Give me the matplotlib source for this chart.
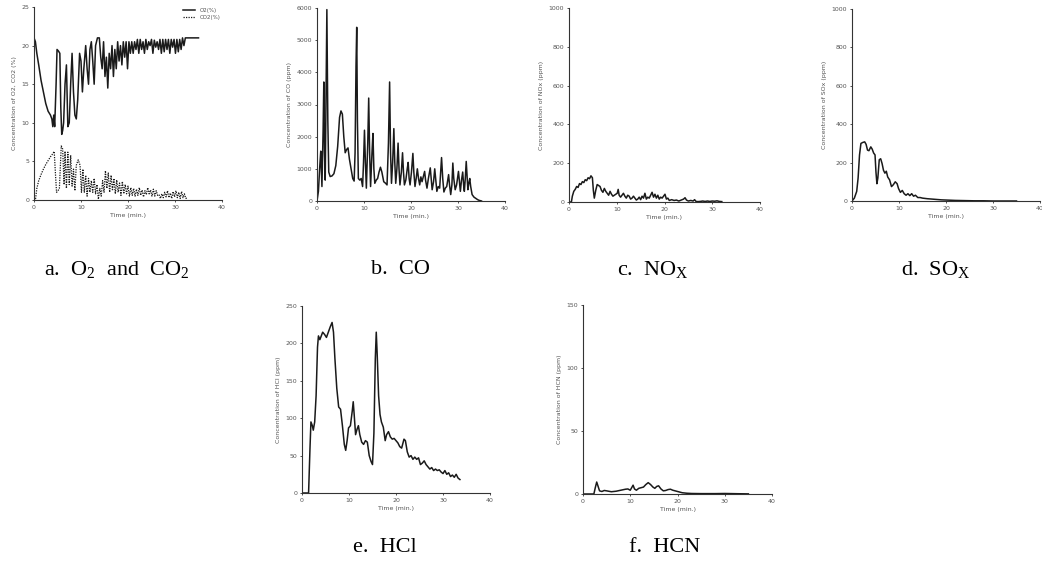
import matplotlib
matplotlib.use("Agg")
import matplotlib.pyplot as plt

plt.rcParams['mathtext.fontset'] = 'custom'
plt.rcParams['mathtext.rm'] = 'Liberation Serif'
plt.rcParams['mathtext.it'] = 'Liberation Serif:italic'

# ---------------- data ----------------
o2_t = [0, 0.3, 0.6, 1.0, 1.5, 2.0, 2.5, 3.0, 3.5, 3.8, 4.0, 4.2, 4.4, 4.7, 4.9, 5.2, 5.5, 5.7, 5.9, 6.1,
        6.3, 6.6, 6.9, 7.2, 7.5, 7.8, 8.1, 8.4, 8.7, 9.0, 9.3, 9.7, 10.0, 10.3, 10.6, 11.0, 11.3, 11.6, 11.9, 12.2,
        12.5, 12.8, 13.1, 13.5, 13.9, 14.2, 14.5, 14.8, 15.1, 15.4, 15.7, 16.0, 16.3, 16.6, 16.9, 17.2, 17.5, 17.8, 18.1, 18.4,
        18.7, 19.0, 19.3, 19.6, 19.9, 20.2, 20.5, 20.8, 21.1, 21.4, 21.7, 22.0, 22.3, 22.6, 22.9, 23.2, 23.5, 23.8, 24.1, 24.4,
        24.7, 25.0, 25.3, 25.6, 25.9, 26.2, 26.5, 26.8, 27.1, 27.4, 27.7, 28.0, 28.3, 28.6, 28.9, 29.2, 29.5, 29.8, 30.1, 30.4,
        30.7, 31.0, 31.3, 31.6, 31.9, 32.2, 32.5, 35.0]
o2_v = [21, 20.5, 19, 17.5, 15.5, 14, 12.5, 11.5, 11, 10.5, 9.5, 11, 9.5, 15, 19.5, 19.3, 19, 12, 8.5, 9,
        10, 15, 17.5, 9.5, 10, 15, 19, 14, 11, 10.5, 13, 19, 18, 14, 17, 20, 17, 15, 19.5, 20.5,
        18, 15, 20, 21, 21, 18.5, 17, 20.5, 16, 18.5, 14.5, 19, 17, 20, 16, 19.5, 17, 20.5, 18, 20,
        17.5, 20.5, 18.5, 20.5, 17, 20.5, 19, 20.5, 19, 20.5, 19.5, 20.8, 19, 20.8, 19.5, 20.5, 19, 20.8, 19.5, 20.5,
        20, 20.8, 19, 20.7, 19.8, 20.5, 19.5, 20.8, 19, 20.8, 19.2, 20.8, 19.5, 20.8, 19, 20.8, 19.8, 20.8, 19, 20.8,
        19.2, 20.8, 19.5, 21, 20, 21, 21, 21]

co2_t = [0.0, 0.3, 0.6, 1.0, 1.5, 2.0, 2.5, 3.0, 3.5, 4.0, 4.3, 4.6, 4.8, 5.1, 5.4, 5.8, 6.1, 6.4, 6.6, 6.9,
         7.2, 7.5, 7.8, 8.1, 8.4, 8.7, 9.0, 9.4, 9.8, 10.1, 10.4, 10.7, 11.0, 11.3, 11.6, 11.9, 12.2, 12.5, 12.8, 13.1,
         13.4, 13.7, 14.0, 14.3, 14.6, 14.9, 15.2, 15.5, 15.8, 16.1, 16.4, 16.7, 17.0, 17.3, 17.6, 17.9, 18.2, 18.5, 18.8, 19.1,
         19.4, 19.7, 20.0, 20.3, 20.6, 20.9, 21.2, 21.5, 21.8, 22.1, 22.4, 22.7, 23.0, 23.3, 23.6, 23.9, 24.2, 24.5, 24.8, 25.1,
         25.4, 25.7, 26.0, 26.3, 26.6, 26.9, 27.2, 27.5, 27.8, 28.1, 28.4, 28.7, 29.0, 29.3, 29.6, 29.9, 30.2, 30.5, 30.8, 31.1,
         31.4, 31.7, 32.0, 32.3, 32.6]
co2_v = [0, 0, 1.5, 2.5, 3.3, 4.0, 4.6, 5.1, 5.6, 6.0, 6.3, 3.0, 1.0, 1.2, 1.5, 7.0, 6.6, 2.0, 6.3, 1.5,
         6.2, 2.0, 5.8, 1.8, 4.0, 1.2, 4.5, 5.2, 4.5, 1.0, 4.0, 1.0, 3.2, 0.5, 2.8, 1.0, 2.5, 1.0, 2.8, 0.8,
         2.0, 0.1, 1.5, 0.5, 2.5, 1.0, 3.8, 1.5, 3.5, 1.0, 3.2, 1.2, 2.8, 0.8, 2.6, 1.0, 2.2, 0.6, 2.4, 0.8,
         2.0, 0.8, 1.8, 0.5, 1.6, 0.6, 1.5, 0.5, 1.4, 0.6, 1.6, 0.6, 1.3, 0.4, 1.2, 0.7, 1.6, 0.8, 1.3, 0.5,
         1.4, 0.5, 1.2, 0.6, 0.7, 0.2, 0.8, 0.3, 1.0, 0.4, 1.2, 0.3, 0.9, 0.2, 1.1, 0.4, 1.2, 0.3, 1.0, 0.2,
         1.1, 0.3, 0.8, 0.2, 0.3]

co_t = [0.0, 0.3, 0.6, 0.8, 1.05, 1.3, 1.45, 1.6, 1.75, 1.9, 2.1, 2.3, 2.5, 2.8, 3.2, 3.6, 4.0, 4.4, 4.8, 5.1,
        5.4, 5.7, 6.0, 6.3, 6.6, 6.9, 7.2, 7.6, 7.9, 8.1, 8.3, 8.45, 8.6, 8.8, 9.1, 9.4, 9.7, 9.9, 10.1, 10.3,
        10.5, 10.8, 11.0, 11.2, 11.4, 11.7, 11.9, 12.1, 12.3, 12.6, 12.9, 13.2, 13.5, 13.8, 14.2, 14.6, 14.9, 15.2, 15.45, 15.65,
        15.85, 16.1, 16.35, 16.55, 16.75, 17.0, 17.25, 17.45, 17.65, 17.95, 18.2, 18.4, 18.6, 18.9, 19.2, 19.4, 19.6, 19.8, 20.1, 20.4,
        20.6, 20.85, 21.1, 21.35, 21.6, 21.85, 22.1, 22.35, 22.6, 22.9, 23.1, 23.4, 23.7, 24.1, 24.3, 24.5, 24.8, 25.05, 25.3, 25.5,
        25.8, 26.1, 26.5, 26.75, 27.0, 27.3, 27.6, 28.0, 28.2, 28.45, 28.7, 28.9, 29.1, 29.4, 29.7, 30.1, 30.3, 30.5, 30.75, 31.0,
        31.2, 31.35, 31.55, 31.75, 31.95, 32.1, 32.3, 32.5, 32.7, 33.0, 33.4, 33.8, 34.2, 34.5, 35.0]
co_v = [0, 300, 1100, 1550, 450, 2200, 3700, 1500, 650, 3000, 5950, 2500, 900, 760, 780, 850, 1100, 1700, 2600, 2800,
        2700, 2000, 1500, 1600, 1650, 1300, 1050, 700, 620, 1500, 4200, 5400, 2500, 700, 650, 700, 450, 1200, 2200, 1200,
        400, 1800, 3200, 1500, 450, 1500, 2100, 1000, 550, 650, 700, 900, 1050, 900, 600, 550, 500, 1800, 3700, 1500,
        550, 1200, 2250, 1200, 550, 1000, 1800, 1000, 500, 900, 1500, 900, 500, 650, 1000, 1200, 700, 500, 900, 1480,
        900, 450, 700, 1000, 700, 500, 750, 600, 750, 920, 650, 400, 700, 1030, 700, 350, 600, 1000, 600, 300,
        450, 400, 1350, 700, 280, 400, 450, 820, 500, 200, 500, 1180, 700, 350, 500, 920, 600, 300, 650, 900,
        500, 300, 700, 1230, 700, 350, 550, 700, 450, 200, 120, 80, 40, 20, 0]

nox_t = [0, 0.5, 0.7, 1.0, 1.3, 1.6, 1.9, 2.2, 2.5, 2.8, 3.1, 3.4, 3.7, 4.0, 4.3, 4.6, 4.9, 5.1, 5.3, 5.6,
         5.9, 6.2, 6.5, 6.8, 7.1, 7.4, 7.7, 8.0, 8.3, 8.6, 8.9, 9.2, 9.5, 9.8, 10.1, 10.3, 10.5, 10.8, 11.1, 11.4,
         11.7, 12.0, 12.3, 12.6, 12.9, 13.2, 13.5, 13.8, 14.1, 14.4, 14.7, 15.0, 15.3, 15.6, 15.9, 16.2, 16.5, 16.8, 17.1, 17.4,
         17.7, 18.0, 18.3, 18.6, 18.9, 19.2, 19.5, 19.8, 20.1, 20.4, 20.7, 21.0, 21.5, 22.0, 22.5, 23.0, 23.5, 24.0, 24.3, 24.6,
         25.0, 25.5, 26.0, 26.3, 26.6, 27.0, 27.5, 28.0, 28.5, 29.0, 29.5, 30.0, 30.5, 31.0, 31.5, 32.0]
nox_v = [0, 0, 30, 55, 65, 80, 75, 95, 90, 105, 100, 115, 110, 125, 120, 135, 125, 60, 20, 60,
         90, 85, 80, 60, 50, 70, 55, 45, 35, 55, 40, 30, 35, 40, 45, 65, 35, 25, 35, 45,
         30, 20, 35, 30, 15, 20, 30, 20, 10, 15, 25, 12, 30, 20, 45, 15, 25, 20, 35, 50,
         25, 40, 20, 35, 15, 25, 20, 30, 40, 15, 20, 8, 12, 8, 10, 5, 10, 15, 22, 10,
         5, 8, 5, 12, 3, 2, 3, 5, 3, 5, 3, 5, 4, 6, 3, 2]

sox_t = [0, 0.5, 1.0, 1.3, 1.6, 1.9, 2.3, 2.7, 3.0, 3.3, 3.6, 4.0, 4.3, 4.6, 4.9, 5.1, 5.3, 5.5, 5.8, 6.1,
         6.4, 6.7, 7.0, 7.3, 7.6, 8.0, 8.4, 8.8, 9.2, 9.6, 9.9, 10.3, 10.7, 11.1, 11.5, 11.9, 12.3, 12.7, 13.1, 13.5,
         14.0, 14.5, 15.0, 16.0, 17.0, 18.0, 19.0, 20.0, 22.0, 24.0, 26.0, 28.0, 30.0, 35.0]
sox_v = [0, 15, 50, 120, 240, 300, 305, 308, 295, 265, 262, 282, 270, 250, 240, 150, 90, 120, 215, 220,
         195, 160, 145, 155, 125, 110, 75, 85, 100, 90, 65, 45, 55, 38, 30, 38, 28, 38, 25, 30,
         18, 18, 15, 12, 10, 8, 6, 5, 3, 2, 1, 1, 0, 0]

hcl_t = [0, 1.4, 1.7, 1.9, 2.2, 2.4, 2.7, 3.0, 3.3, 3.5, 3.8, 4.1, 4.4, 4.8, 5.2, 5.6, 6.0, 6.4, 6.7, 7.0,
         7.4, 7.8, 8.2, 8.6, 9.0, 9.3, 9.6, 9.9, 10.3, 10.7, 10.9, 11.1, 11.4, 11.7, 12.0, 12.3, 12.7, 13.1, 13.5, 13.9,
         14.3, 14.7, 15.0, 15.3, 15.6, 15.8, 16.0, 16.3, 16.6, 16.9, 17.3, 17.7, 18.0, 18.4, 18.8, 19.2, 19.6, 20.0, 20.4, 20.8,
         21.2, 21.7, 22.0, 22.4, 22.8, 23.2, 23.6, 24.0, 24.4, 24.8, 25.2, 25.6, 26.0, 26.4, 26.8, 27.2, 27.6, 28.0, 28.4, 28.8,
         29.2, 29.6, 30.0, 30.4, 30.8, 31.2, 31.6, 32.0, 32.4, 32.8, 33.2, 33.6]
hcl_v = [0, 0, 60, 95, 90, 84, 95, 130, 195, 210, 205, 210, 215, 212, 208, 215, 222, 228, 215, 180,
         140, 115, 112, 90, 65, 57, 70, 87, 90, 110, 122, 105, 78, 85, 90, 78, 68, 65, 70, 68,
         50, 42, 38, 80, 180, 215, 185, 130, 105, 95, 88, 70, 78, 82, 75, 72, 73, 70, 67, 62,
         60, 72, 70, 55, 48, 50, 45, 48, 45, 47, 38, 40, 43, 38, 35, 32, 34, 30, 32, 30,
         31, 28, 26, 30, 25, 27, 22, 24, 21, 25, 20, 18]

hcn_t = [0, 2.3, 2.6, 2.9, 3.2, 3.5, 4.0, 4.5, 5.0, 6.0, 7.0, 8.0, 9.0, 9.5, 10.0, 10.3, 10.6, 10.9, 11.3, 11.8,
         12.3, 12.8, 13.3, 13.8, 14.3, 14.8, 15.2, 15.6, 16.0, 16.5, 17.0, 17.5, 18.0, 18.5, 19.0, 19.5, 20.0, 20.5, 21.0, 22.0,
         23.0, 25.0, 28.0, 30.0, 33.0, 35.0]
hcn_v = [0, 0, 5, 9.5, 6, 2.5, 2, 2.8, 2.5, 1.8, 2.2, 3.0, 3.8, 4.0, 3.0, 5, 7, 4, 3, 4.5,
         5, 5.5, 7.5, 9, 7.5, 5.5, 4.5, 6, 6.5, 4, 2.5, 2.8, 3.5, 3.8, 3, 2.5, 2, 1.5, 1, 0.6,
         0.4, 0.3, 0.3, 0.4, 0.2, 0.1]

x_ticks = [0, 10, 20, 30, 40]
captions = ["a.  O$_2$  and  CO$_2$", "b.  CO", "c.  NO$_\\mathrm{X}$", "d.  SO$_\\mathrm{X}$", "e.  HCl", "f.  HCN"]

# ---------------- figure ----------------
W, H = 1042, 581
fig = plt.figure(figsize=(W / 100, H / 100), dpi=100)
LC = '#1a1a1a'
TC = '#555555'

def px_axes(x0, x1, ytop, ybot):
    return fig.add_axes([x0 / W, 1 - ybot / H, (x1 - x0) / W, (ybot - ytop) / H])

def style(ax, ymax, ystep, ylabel):
    ax.set_xlim(0, 40)
    ax.set_ylim(0, ymax)
    ax.set_xticks(x_ticks)
    ax.set_yticks(range(0, ymax + 1, ystep))
    for s in ['top', 'right']:
        ax.spines[s].set_visible(False)
    for s in ['left', 'bottom']:
        ax.spines[s].set_linewidth(0.8)
        ax.spines[s].set_color('#333333')
    ax.tick_params(labelsize=4.5, length=1.5, width=0.6, pad=2, colors='#333333', labelcolor=TC)
    ax.set_xlabel('Time (min.)', fontsize=4.5, color=TC, labelpad=2)
    ax.set_ylabel(ylabel, fontsize=4.5, color=TC, labelpad=3)
    ax.patch.set_alpha(0)

axA = px_axes(34, 222, 7, 200)
axA.plot(o2_t, o2_v, color=LC, lw=1.1, label='O2(%)')
axA.plot(co2_t, co2_v, color=LC, lw=0.9, ls=(0, (1, 1)), label='CO2(%)')
style(axA, 25, 5, 'Concentration of O2, CO2 (%)')
axA.legend(loc='upper right', bbox_to_anchor=(1.02, 1.02), frameon=False, fontsize=4,
           handlelength=2.2, labelspacing=0.3, labelcolor=TC)

axB = px_axes(317, 505, 8, 201)
axB.plot(co_t, co_v, color=LC, lw=1.1)
style(axB, 6000, 1000, 'Concentration of CO (ppm)')

axC = px_axes(569, 760, 8, 202)
axC.plot(nox_t, nox_v, color=LC, lw=1.1)
style(axC, 1000, 200, 'Concentration of NOx (ppm)')

axD = px_axes(852, 1040, 9, 201)
axD.plot(sox_t, sox_v, color=LC, lw=1.1)
style(axD, 1000, 200, 'Concentration of SOx (ppm)')

axE = px_axes(302, 490, 306, 493)
axE.plot(hcl_t, hcl_v, color=LC, lw=1.1)
style(axE, 250, 50, 'Concentration of HCl (ppm)')

axF = px_axes(583, 772, 305, 494)
axF.plot(hcn_t, hcn_v, color=LC, lw=1.1)
style(axF, 150, 50, 'Concentration of HCN (ppm)')

cap_pos = [(117, 270), (400, 270), (653, 270), (936, 270), (385, 548), (665, 548)]
for (cx, cy), txt in zip(cap_pos, captions):
    fig.text(cx / W, 1 - cy / H, txt, ha='center', va='center', fontsize=16,
             family='Liberation Serif', color='#000000')

fig.savefig('out.png', dpi=100, facecolor='white')
